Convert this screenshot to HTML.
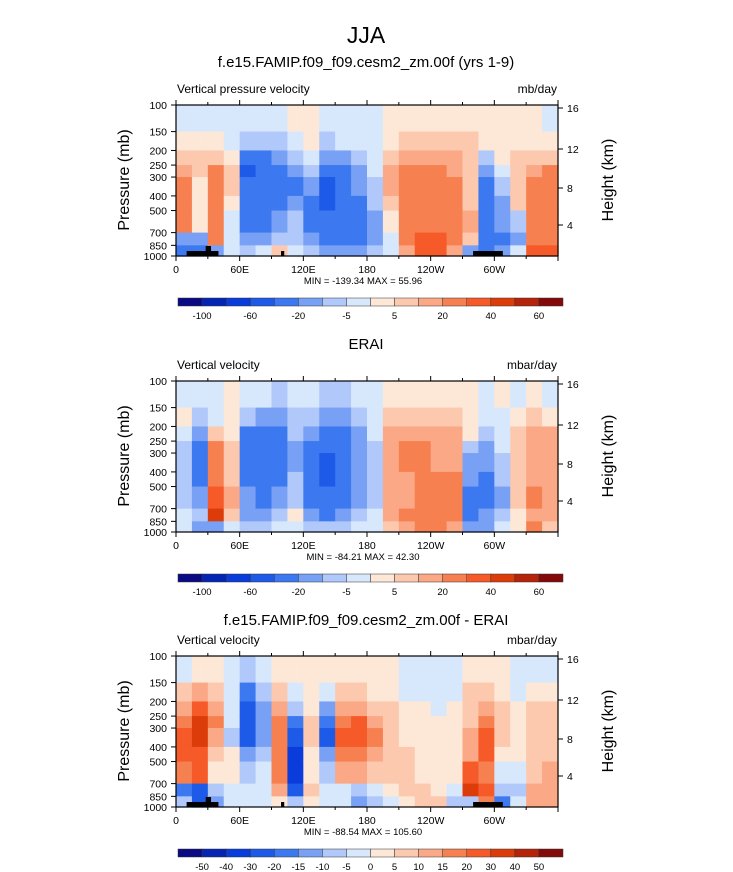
<!DOCTYPE html>
<html><head><meta charset="utf-8"><style>
body{margin:0;background:#fff;}
svg{display:block;font-family:"Liberation Sans",Arial,sans-serif;}
</style></head><body>
<svg id="fig" width="733" height="872" viewBox="0 0 733 872">
<text x="366" y="43" text-anchor="middle" font-size="23">JJA</text>
</svg>
<script>
const lonTickLabels=["0","60E","120E","180","120W","60W"];
const lonTickValues=[0,60,120,180,240,300];
const pressureLevels=[100,150,200,250,300,400,500,700,850,1000];
const heightLabels=["16","12","8","4"];
const heightTickOffsets=[3,44,83,120];
const colors=['#0a0a82','#0624b4','#0a3cdc','#1e5ae8','#3c78f0','#78a0f5','#b0c8fa','#d7e8fc','#fde7d7','#fcc8ae','#fba886','#f78050','#f55a28','#dc3c0a','#b4230a','#820a0a'];
const levelsAbs=[-100,-80,-60,-40,-20,-10,-5,0,5,10,20,30,40,50,60];
const labelsAbs=["-100","-60","-20","-5","5","20","40","60"];
const levelsDiff=[-50,-40,-30,-20,-15,-10,-5,0,5,10,15,20,30,40,50];
const labelsDiff=["-50","-40","-30","-20","-15","-10","-5","0","5","10","15","20","30","40","50"];
const modelField=[
[-3,3,8,15,25,25,25,-15,-30],[-3,3,8,8,3,3,3,-20,-40],[-3,3,8,25,25,25,25,25,-20],[-3,-3,3,8,8,3,-3,-3,-3],
[-3,-8,-40,-60,-40,-30,-30,-15,-8],[-3,-8,-30,-40,-30,-30,-30,-15,-3],[-3,-8,-15,-30,-30,-30,-15,-8,8],[3,-3,-8,-15,-30,-15,-8,-8,-3],
[3,3,-3,-8,-15,-30,-30,-15,-8],[-3,-8,-20,-40,-60,-50,-40,-30,-15],[-3,-3,-15,-30,-30,-40,-40,-40,-20],[-3,-3,-8,-15,-20,-30,-40,-30,-20],
[-3,-3,-3,-3,-8,-8,-15,-15,-8],[3,3,8,15,15,8,3,-3,-3],[3,8,15,25,25,25,25,25,15],[3,8,15,25,25,25,25,35,35],
[3,8,15,25,25,25,25,35,35],[3,8,15,15,25,25,25,25,15],[3,8,8,8,8,8,15,8,-15],[3,3,-8,-15,-30,-30,-30,-30,-40],
[3,3,3,-3,-8,-15,-20,-30,-20],[3,3,8,8,8,8,-8,-20,-3],[3,3,8,15,25,25,25,25,30],[-3,3,8,25,25,25,25,25,35]];
const eraiField=[
[-3,3,-3,-8,-8,-8,-8,-3,-3],[-3,-8,-20,-30,-30,-30,-20,-8,-15],[-3,-3,8,25,25,25,35,40,-15],[3,3,3,8,8,8,15,8,-3],
[-3,-8,-30,-30,-30,-30,-20,-15,-8],[-3,-15,-30,-40,-40,-30,-30,-15,-8],[-8,-20,-30,-30,-30,-30,-20,-8,-3],[-3,-8,-8,-15,-15,-8,-8,3,-3],
[-3,-8,-15,-30,-30,-30,-30,-15,-8],[-8,-15,-30,-40,-50,-60,-40,-30,-8],[-8,-15,-30,-30,-40,-40,-30,-15,-8],[-3,-8,-15,-20,-20,-20,-20,-8,-3],
[-3,-3,-3,-8,-8,-8,-8,-3,-3],[3,8,15,15,15,15,15,15,8],[3,8,15,25,25,15,15,25,15],[3,8,15,25,25,25,25,25,25],
[3,8,15,15,15,25,25,25,25],[3,8,15,15,15,25,25,25,15],[3,3,3,-8,-15,-20,-30,-40,-20],[-3,-3,-8,-15,-20,-30,-30,-20,-15],
[3,-3,-3,-3,-8,-8,-15,-8,-3],[-3,3,8,8,8,8,8,3,3],[3,8,15,15,15,15,25,15,25],[-3,3,15,15,15,15,15,15,8]];
const diffField=[
[-3,5,12,18,25,25,18,-20,-10],[2,12,25,35,35,25,25,-30,-30],[2,7,12,18,12,7,2,-10,-15],[-3,-3,-3,-3,-7,2,2,-3,-3],
[-7,-20,-30,-25,-25,-12,-7,-3,-3],[-3,-7,-12,-12,-12,-7,-3,-3,-3],[2,7,12,18,18,18,18,12,2],[2,-3,-7,-20,-25,-35,-35,-25,-7],
[2,2,2,7,7,2,2,7,2],[2,-3,-12,-20,-25,-15,-7,-3,-3],[2,7,12,18,25,18,12,-3,-3],[2,7,12,25,25,18,12,-7,-15],
[2,2,7,12,18,12,7,-3,-7],[2,2,7,7,7,7,7,2,-3],[-3,-3,2,2,2,7,7,7,2],[-3,-3,2,2,2,2,2,7,7],
[-3,-3,-3,2,2,2,2,2,7],[-3,-3,2,2,2,2,2,-3,-7],[2,7,7,7,12,12,25,35,-10],[2,7,12,18,25,25,18,25,15],
[2,2,7,7,7,2,-3,-10,-20],[-3,-3,2,2,2,2,-3,-7,-3],[-3,2,7,7,7,7,7,12,12],[-3,2,7,7,7,7,12,12,12]];
const landLon=[[10,40],[28,33],[99,102],[280,308]];

const NS='http://www.w3.org/2000/svg';
const svg=document.getElementById('fig');
function mk(tag,attrs,parent){const e=document.createElementNS(NS,tag);for(const k in attrs)e.setAttribute(k,attrs[k]);(parent||svg).appendChild(e);return e;}
function txt(s,attrs,parent){const e=mk('text',attrs,parent);e.textContent=s;return e;}
const X0=176,X1=558,W=X1-X0,H=151;
const xOf=l=>X0+W*l/360;
function colorFor(v,levels){let i=0;while(i<levels.length&&v>=levels[i])i++;return colors[i];}

function panel(top,titleY,title,leftT,rightT,field,levels,labels,minmax,land,key){
  const g=mk('g',{});  
  const yOf=p=>top+H*Math.log(p/100)/Math.log(10);
  txt(title,{x:366,y:titleY,'text-anchor':'middle','font-size':15},g);
  txt(leftT,{x:177,y:top-12,'font-size':12},g);
  txt(rightT,{x:557,y:top-12,'font-size':12,'text-anchor':'end'},g);
  field.forEach((col,ci)=>{col.forEach((v,ri)=>{
    const r=mk('rect',{x:xOf(ci*15),y:yOf(pressureLevels[ri]),width:W/24+0.6,height:yOf(pressureLevels[ri+1])-yOf(pressureLevels[ri])+0.6,fill:colorFor(v,levels)},g);
    
    
  });});
  if(land){
    const yb=yOf(1000);
    landLon.forEach((d,i)=>{const h=(i==1)?10:5;
      const r=mk('rect',{x:xOf(d[0]),y:yb-h,width:xOf(d[1])-xOf(d[0]),height:h,fill:'#000'},g);
      
      });
  }
  mk('rect',{x:X0,y:top,width:W,height:H,fill:'none',stroke:'#000','stroke-width':1.2},g);
  for(let l=0;l<=360;l+=30){const big=l%60==0;
    mk('line',{x1:xOf(l),x2:xOf(l),y1:top+H,y2:top+H+(big?5:3),stroke:'#000'},g);
    mk('line',{x1:xOf(l),x2:xOf(l),y1:top,y2:top-(big?5:3),stroke:'#000'},g);}
  lonTickValues.forEach((l,i)=>{txt(lonTickLabels[i],{x:xOf(l),y:top+H+17,'text-anchor':'middle','font-size':10.5},g);});
  pressureLevels.forEach(p=>{const y=yOf(p);mk('line',{x1:X0-5,x2:X0,y1:y,y2:y,stroke:'#000'},g);
    txt(String(p),{x:X0-9,y:y+4,'text-anchor':'end','font-size':10.5},g);});
  heightLabels.forEach((s,i)=>{const y=top+heightTickOffsets[i];mk('line',{x1:X1,x2:X1+5,y1:y,y2:y,stroke:'#000'},g);
    txt(s,{x:X1+9,y:y+4,'font-size':10.5},g);});
  txt('Pressure (mb)',{x:0,y:0,'font-size':16,'text-anchor':'middle',transform:`translate(129,${top+75}) rotate(-90)`},g);
  txt('Height (km)',{x:0,y:0,'font-size':16,'text-anchor':'middle',transform:`translate(613,${top+75}) rotate(-90)`},g);
  txt(minmax,{x:363,y:top+H+28,'text-anchor':'middle','font-size':9.5},g);
  const cy=top+193,cw=385/16;
  colors.forEach((c,i)=>{const r=mk('rect',{x:178+i*cw,y:cy,width:cw,height:8,fill:c,stroke:'#333','stroke-width':0.5},g);
    
    });
  const step=labels.length==8?2:1;
  labels.forEach((s,i)=>{txt(s,{x:178+cw*(1+i*step),y:cy+21,'text-anchor':'middle','font-size':9.5},g);});
}
panel(105,67,'f.e15.FAMIP.f09_f09.cesm2_zm.00f (yrs 1-9)','Vertical pressure velocity','mb/day',modelField,levelsAbs,labelsAbs,'MIN = -139.34  MAX =  55.96',true,'model');
panel(381,349,'ERAI','Vertical velocity','mbar/day',eraiField,levelsAbs,labelsAbs,'MIN = -84.21  MAX = 42.30',false,'erai');
panel(656,625,'f.e15.FAMIP.f09_f09.cesm2_zm.00f - ERAI','Vertical velocity','mbar/day',diffField,levelsDiff,labelsDiff,'MIN = -88.54  MAX = 105.60',true,'diff');
</script>
</body></html>
